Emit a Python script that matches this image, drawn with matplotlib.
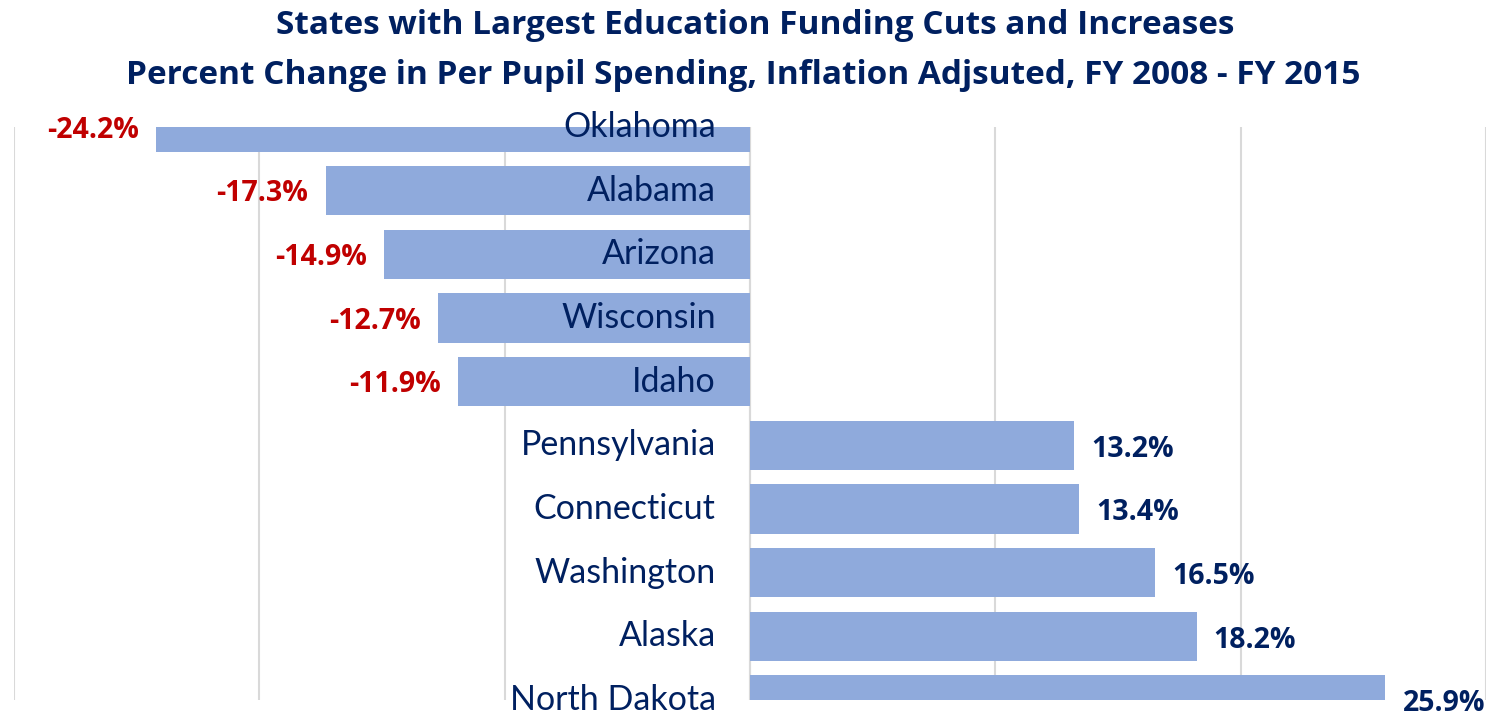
import matplotlib.pyplot as plt
import numpy as np

states = ["Oklahoma", "Alabama", "Arizona", "Wisconsin", "Idaho",
          "Pennsylvania", "Connecticut", "Washington", "Alaska", "North Dakota"]
change = [-24.2, -17.3, -14.9, -12.7, -11.9, 13.2, 13.4, 16.5, 18.2, 25.9]

navy = "#002060"
red = "#C00000"
bar_col = "#8FAADC"

plt.rcParams['font.family'] = ['Lato', 'DejaVu Sans']

fig = plt.figure(figsize=(14.86, 7.16), dpi=100)
ax = fig.add_axes([14 / 1486, 1 - 700 / 716, 1472 / 1486, 573 / 716])

y = np.arange(len(states))
ax.barh(y, change, height=0.77, color=bar_col, zorder=2)

ax.set_xlim(-30, 30)
ax.set_ylim(9, 0)
ax.set_xticks([-30, -20, -10, 0, 10, 20, 30])
ax.grid(axis="x", color="#D9D9D9", linewidth=1.5, zorder=0)
ax.tick_params(left=False, bottom=False, labelleft=False, labelbottom=False)
for s in ax.spines.values():
    s.set_visible(False)
ax.axvline(0, color="#D9D9D9", linewidth=1.5, zorder=1)

for i, (st, v) in enumerate(zip(states, change)):
    ax.text(-1.4, i, st, ha="right", va="center", fontsize=24.5, color=navy, zorder=3)
    if v < 0:
        ax.text(v - 0.7, i + 0.05, f"{v:.1f}%", ha="right", va="center", fontsize=20.5,
                fontweight="bold", color=red, zorder=3,
                family=["Open Sans", "DejaVu Sans"])
    else:
        ax.text(v + 0.7, i + 0.06, f"{v:.1f}%", ha="left", va="center", fontsize=20.5,
                fontweight="bold", color=navy, zorder=3,
                family=["Open Sans", "DejaVu Sans"])

fig.text(0.508, 0.965, "States with Largest Education Funding Cuts and Increases",
         ha="center", va="center", fontsize=24, fontweight="bold", color=navy,
         family=["Open Sans", "DejaVu Sans"])
fig.text(0.5, 0.895, "Percent Change in Per Pupil Spending, Inflation Adjsuted, FY 2008 - FY 2015",
         ha="center", va="center", fontsize=24, fontweight="bold", color=navy,
         family=["Open Sans", "DejaVu Sans"])

fig.savefig("out.png", dpi=100)
